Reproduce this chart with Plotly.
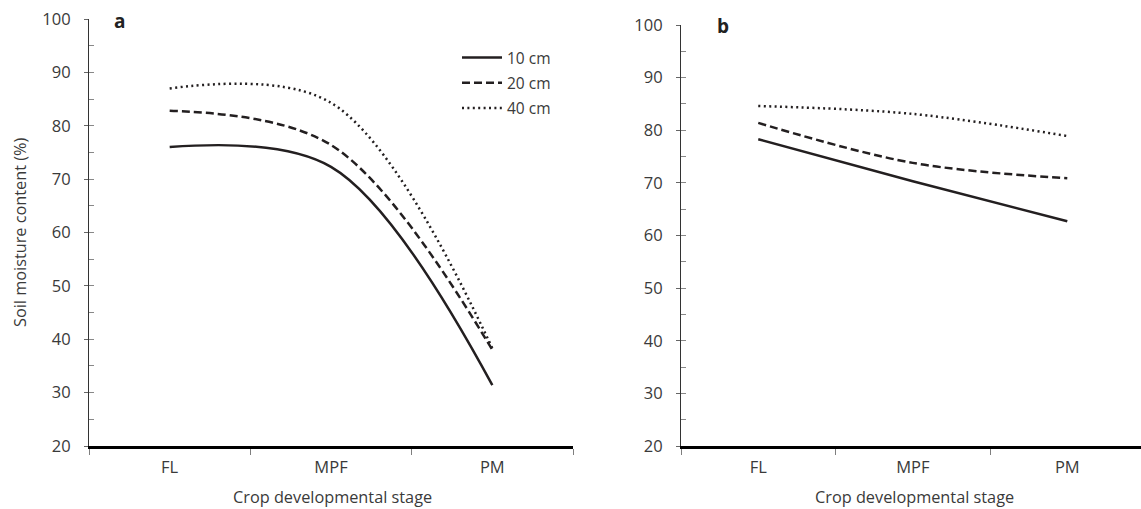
import plotly.graph_objects as go

stages = ["FL", "MPF", "PM"]
depths = ["10 cm", "20 cm", "40 cm"]

# Panel a
a_10cm = [76.0, 72.3, 31.4]
a_20cm = [82.8, 76.4, 38.0]
a_40cm = [87.0, 84.3, 38.3]

# Panel b
b_10cm = [78.3, 70.3, 62.7]
b_20cm = [81.4, 73.8, 70.9]
b_40cm = [84.6, 83.1, 78.9]

y_ticks = [20, 30, 40, 50, 60, 70, 80, 90, 100]

LINE_COLOR = "#231f20"
TEXT_COLOR = "#3a3a3a"
FONT = "Open Sans"
dashes = ["solid", "8px,4px", "2px,3.4px"]

W, H = 1141, 509

fig = go.Figure()

for vals, name, dash in zip([a_10cm, a_20cm, a_40cm], depths, dashes):
    fig.add_trace(go.Scatter(x=stages, y=vals, name=name, mode="lines", legendgroup=name,
                             line=dict(color=LINE_COLOR, width=2.5, dash=dash, shape="spline", smoothing=1.0),
                             xaxis="x", yaxis="y", showlegend=True))
for vals, name, dash in zip([b_10cm, b_20cm, b_40cm], depths, dashes):
    fig.add_trace(go.Scatter(x=stages, y=vals, name=name, mode="lines", legendgroup=name,
                             line=dict(color=LINE_COLOR, width=2.5, dash=dash, shape="spline", smoothing=1.0),
                             xaxis="x2", yaxis="y2", showlegend=False))

def px_x(p):
    return p / W

def px_y(p):
    return 1 - p / H

xcommon = dict(type="category", categoryorder="array", categoryarray=stages,
               showline=True, linecolor="#000000", linewidth=2.5,
               ticks="outside", ticklen=6, tickcolor="#7f7f7f", tickwidth=1,
               tickson="boundaries", showgrid=False, zeroline=False, automargin=False,
               ticklabelstandoff=4,
               tickfont=dict(family=FONT, size=16.5, color=TEXT_COLOR))
ycommon = dict(range=[20, 100], tickvals=y_ticks, showline=True, linecolor="#333333", linewidth=1.2,
               ticks="outside", ticklen=4, tickcolor="#666666", tickwidth=1,
               showgrid=False, zeroline=False, automargin=False, ticklabelstandoff=10,
               tickfont=dict(family=FONT, size=16.5, color=TEXT_COLOR))
yoverlay = dict(range=[20, 100], dtick=5, tick0=20, ticks="inside", ticklen=5,
                tickcolor="#888888", tickwidth=1, showticklabels=False, automargin=False,
                showline=False, showgrid=False, zeroline=False)

title_font = dict(family=FONT, size=16.3, color=TEXT_COLOR)

fig.update_layout(
    width=W, height=H,
    margin=dict(l=0, r=0, t=0, b=0, autoexpand=False),
    paper_bgcolor="white", plot_bgcolor="white",
    xaxis=dict(domain=[px_x(89), px_x(573)], range=[-0.5, 2.5], anchor="y", **xcommon),
    xaxis2=dict(domain=[px_x(681), 1.0], range=[-0.5, 2.477], anchor="y2", **xcommon),
    yaxis=dict(domain=[px_y(446), px_y(19)], anchor="x", **ycommon),
    yaxis2=dict(domain=[px_y(446), px_y(25)], anchor="x2", **ycommon),
    yaxis3=dict(domain=[px_y(446), px_y(19)], overlaying="y", anchor="x", **yoverlay),
    yaxis4=dict(domain=[px_y(446), px_y(25)], overlaying="y2", anchor="x2", **yoverlay),
    legend=dict(x=px_x(457), y=px_y(41), xanchor="left", yanchor="top",
                bgcolor="rgba(0,0,0,0)", font=dict(family=FONT, size=15.5, color=TEXT_COLOR),
                traceorder="grouped", tracegroupgap=2, itemwidth=40),
    annotations=[
        dict(text="<b>a</b>", x=px_x(119), y=px_y(21), xref="paper", yref="paper",
             xanchor="center", yanchor="middle", showarrow=False,
             font=dict(family=FONT, size=19, color="#222222")),
        dict(text="<b>b</b>", x=px_x(723), y=px_y(26), xref="paper", yref="paper",
             xanchor="center", yanchor="middle", showarrow=False,
             font=dict(family=FONT, size=19, color="#222222")),
        dict(text="Crop developmental stage", x=px_x(332), y=px_y(497), xref="paper", yref="paper",
             xanchor="center", yanchor="middle", showarrow=False, font=title_font),
        dict(text="Crop developmental stage", x=px_x(914), y=px_y(497), xref="paper", yref="paper",
             xanchor="center", yanchor="middle", showarrow=False, font=title_font),
        dict(text="Soil moisture content (%)", x=px_x(20), y=px_y(232), xref="paper", yref="paper",
             xanchor="center", yanchor="middle", showarrow=False, textangle=-90, font=title_font),
    ],
)

# empty traces so the overlay axes (minor/inside ticks) are drawn
fig.add_trace(go.Scatter(x=[None], y=[None], xaxis="x", yaxis="y3", showlegend=False, hoverinfo="skip"))
fig.add_trace(go.Scatter(x=[None], y=[None], xaxis="x2", yaxis="y4", showlegend=False, hoverinfo="skip"))

fig.write_html("out.html", config={"displayModeBar": False},
               post_script="document.body.style.margin='0px';document.body.style.overflow='hidden';")
